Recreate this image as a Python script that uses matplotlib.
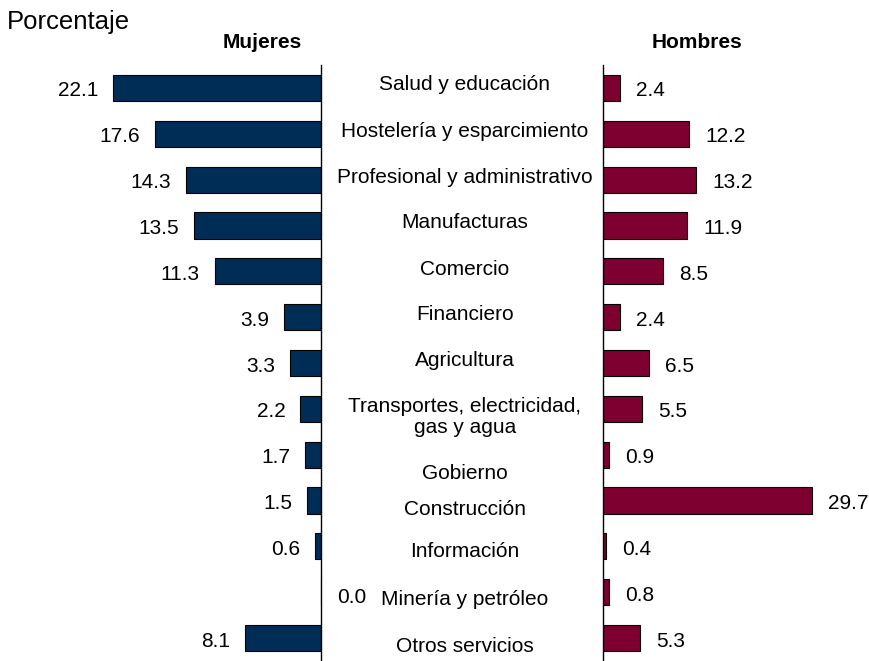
import numpy as np
import matplotlib.pyplot as plt
from matplotlib.transforms import blended_transform_factory, offset_copy

plt.rcParams['font.family'] = ['Liberation Sans', 'DejaVu Sans']

# %% data
sectores = ["Salud y educación", "Hostelería y esparcimiento",
            "Profesional y administrativo", "Manufacturas", "Comercio",
            "Financiero", "Agricultura",
            "Transportes, electricidad,\ngas y agua", "Gobierno",
            "Construcción", "Información", "Minería y petróleo",
            "Otros servicios"]
mujeres = [22.1, 17.6, 14.3, 13.5, 11.3, 3.9, 3.3, 2.2, 1.7, 1.5, 0.6, 0.0, 8.1]
hombres = [2.4, 12.2, 13.2, 11.9, 8.5, 2.4, 6.5, 5.5, 0.9, 29.7, 0.4, 0.8, 5.3]

# small vertical nudges of the centre labels (pixels, down is positive)
nudge = [-3, -2, -2, -3, -2, -3, -3, 8, 19, 9, 5, 7, 8]

azul = "#002d56"
granate = "#7d0030"

# %% figure
W, H = 870, 661
fig = plt.figure(figsize=(W / 100, H / 100), dpi=100)
top = 1 - 65 / H
ax_m = fig.add_axes([0, 0, 321 / W, top])
ax_h = fig.add_axes([603 / W, 0, (W - 603) / W, top])

y = np.arange(len(sectores))

ax_m.barh(y, mujeres, height=0.57, color=azul, edgecolor="black", linewidth=0.8)
ax_h.barh(y, hombres, height=0.57, color=granate, edgecolor="black", linewidth=0.8)

ax_m.set_xlim(321 / 9.41, 0)
ax_h.set_xlim(0, (W - 603) / 7.05)

for ax in (ax_m, ax_h):
    ax.set_ylim(len(sectores) - 0.5, -0.5)
    ax.set_xticks([])
    ax.set_yticks([])
    for s in ax.spines.values():
        s.set_visible(False)
    ax.patch.set_visible(False)
ax_m.spines["right"].set_visible(True)
ax_h.spines["left"].set_visible(True)
ax_m.spines["right"].set_linewidth(1)
ax_h.spines["left"].set_linewidth(1)

fs = 15

# value labels
for i, v in enumerate(mujeres):
    if v == 0:
        ax_m.annotate(f"{v:.1f}", (v, i), xytext=(16, -5), textcoords="offset pixels",
                      ha="left", va="center", fontsize=fs, annotation_clip=False)
    else:
        ax_m.annotate(f"{v:.1f}", (v, i), xytext=(-15, -3), textcoords="offset pixels",
                      ha="right", va="center", fontsize=fs)
for i, v in enumerate(hombres):
    ax_h.annotate(f"{v:.1f}", (v, i), xytext=(16, -3), textcoords="offset pixels",
                  ha="left", va="center", fontsize=fs)

# sector names in the middle
tr = blended_transform_factory(fig.transFigure, ax_m.transData)
for i, name in enumerate(sectores):
    t = offset_copy(tr, fig=fig, x=0, y=-nudge[i] * 0.72, units="points")
    fig.text(465 / W, i, name, transform=t, ha="center", va="center",
             fontsize=fs, linespacing=1.1)

fig.text(7 / W, 1 - 22 / H, "Porcentaje", fontsize=18.5, va="center", ha="left")
fig.text(262 / W, 1 - 42 / H, "Mujeres", fontsize=15, fontweight="bold",
         ha="center", va="center")
fig.text(697 / W, 1 - 42 / H, "Hombres", fontsize=15, fontweight="bold",
         ha="center", va="center")

fig.savefig("out.png", dpi=100)
